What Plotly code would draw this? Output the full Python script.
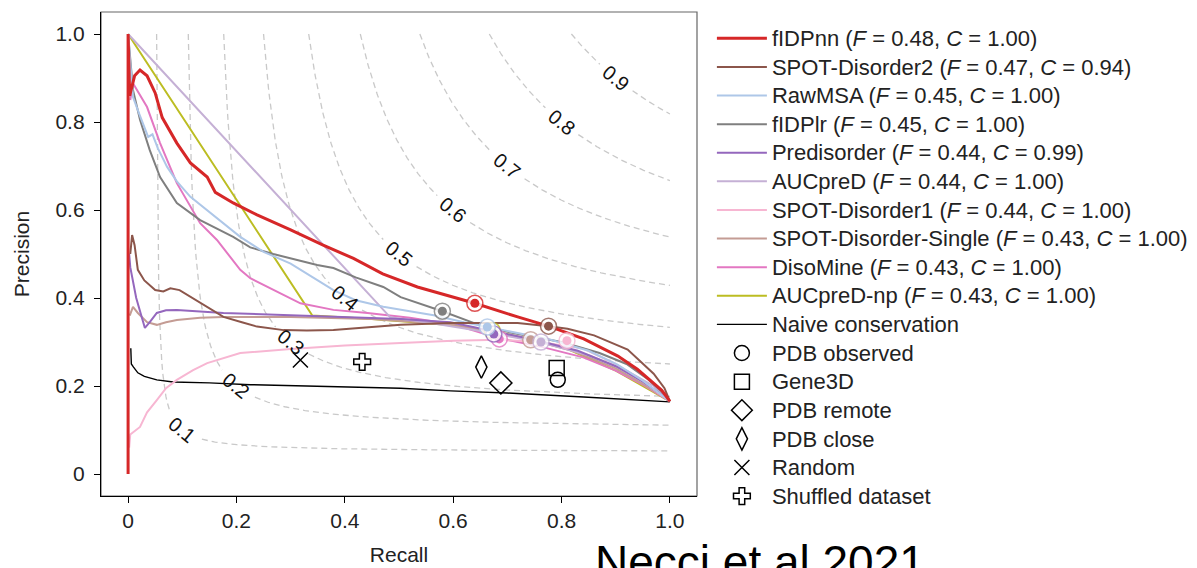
import numpy as np
import plotly.graph_objects as go

# ---------------- data ----------------
fidpnn_r = [0, 0, 0.003, 0.012, 0.022, 0.035, 0.05, 0.063, 0.09, 0.115, 0.146, 0.152, 0.161, 0.194, 0.238, 0.3, 0.36, 0.416, 0.47, 0.534, 0.59, 0.64, 0.719, 0.776, 0.841, 0.904, 0.94, 0.965, 0.985, 1.0]
fidpnn_p = [0, 1, 0.86, 0.905, 0.918, 0.905, 0.866, 0.81, 0.752, 0.707, 0.675, 0.66, 0.64, 0.616, 0.589, 0.555, 0.52, 0.49, 0.455, 0.425, 0.405, 0.388, 0.357, 0.336, 0.307, 0.268, 0.238, 0.212, 0.19, 0.165]

spot2_r = [0.004, 0.0074, 0.012, 0.018, 0.03, 0.05, 0.065, 0.078, 0.095, 0.115, 0.14, 0.176, 0.21, 0.238, 0.287, 0.33, 0.379, 0.44, 0.503, 0.595, 0.719, 0.776, 0.811, 0.86, 0.922, 0.97, 0.99, 1.0]
spot2_p = [0.50, 0.543, 0.52, 0.464, 0.44, 0.418, 0.415, 0.422, 0.418, 0.403, 0.385, 0.357, 0.345, 0.335, 0.327, 0.326, 0.327, 0.333, 0.339, 0.343, 0.343, 0.336, 0.33, 0.315, 0.283, 0.228, 0.195, 0.165]

rawmsa_r = [0, 0.004, 0.009, 0.02, 0.03, 0.037, 0.045, 0.055, 0.072, 0.09, 0.115, 0.145, 0.176, 0.207, 0.25, 0.3, 0.35, 0.379, 0.42, 0.471, 0.52, 0.564, 0.62, 0.663, 0.72, 0.78, 0.85, 0.904, 0.95, 0.985, 1.0]
rawmsa_p = [1, 0.93, 0.857, 0.82, 0.79, 0.766, 0.772, 0.74, 0.698, 0.665, 0.63, 0.6, 0.57, 0.539, 0.505, 0.478, 0.44, 0.418, 0.395, 0.38, 0.37, 0.361, 0.345, 0.334, 0.32, 0.305, 0.28, 0.248, 0.212, 0.18, 0.165]

fidplr_r = [0, 0.009, 0.022, 0.04, 0.059, 0.09, 0.133, 0.194, 0.2255, 0.268, 0.349, 0.379, 0.42, 0.471, 0.503, 0.58, 0.656, 0.72, 0.8, 0.87, 0.92, 0.96, 0.99, 1.0]
fidplr_p = [1, 0.873, 0.805, 0.736, 0.675, 0.616, 0.577, 0.539, 0.515, 0.5, 0.475, 0.468, 0.447, 0.425, 0.402, 0.370, 0.335, 0.318, 0.3, 0.275, 0.25, 0.215, 0.182, 0.165]

predis_r = [0.002, 0.004, 0.015, 0.031, 0.04, 0.053, 0.07, 0.09, 0.176, 0.3, 0.41, 0.503, 0.595, 0.682, 0.75, 0.83, 0.9, 0.95, 0.985, 1.0]
predis_p = [0.5, 0.47, 0.4, 0.332, 0.345, 0.366, 0.372, 0.373, 0.366, 0.361, 0.357, 0.352, 0.345, 0.322, 0.305, 0.28, 0.245, 0.21, 0.18, 0.165]

aucpred_r = [0, 0.484, 0.55, 0.65, 0.76, 0.85, 0.92, 0.97, 1.0]
aucpred_p = [1, 0.356, 0.345, 0.325, 0.30, 0.27, 0.235, 0.2, 0.165]

spot1_r = [0.002, 0.004, 0.022, 0.035, 0.053, 0.07, 0.09, 0.12, 0.146, 0.207, 0.3, 0.4, 0.503, 0.6, 0.684, 0.76, 0.84, 0.9, 0.95, 0.985, 1.0]
spot1_p = [0.06, 0.09, 0.107, 0.14, 0.168, 0.195, 0.214, 0.236, 0.252, 0.275, 0.284, 0.292, 0.298, 0.303, 0.305, 0.3, 0.285, 0.25, 0.21, 0.178, 0.165]

spots_r = [0.003, 0.009, 0.018, 0.035, 0.053, 0.07, 0.09, 0.133, 0.176, 0.3, 0.45, 0.6, 0.743, 0.82, 0.9, 0.95, 0.985, 1.0]
spots_p = [0.36, 0.38, 0.366, 0.345, 0.339, 0.345, 0.35, 0.355, 0.357, 0.357, 0.352, 0.34, 0.305, 0.28, 0.24, 0.205, 0.178, 0.165]

disomine_r = [0.004, 0.009, 0.035, 0.059, 0.09, 0.133, 0.164, 0.207, 0.2255, 0.257, 0.318, 0.379, 0.442, 0.52, 0.6, 0.68, 0.76, 0.84, 0.9, 0.95, 0.985, 1.0]
disomine_p = [0.85, 0.888, 0.834, 0.752, 0.661, 0.57, 0.532, 0.464, 0.445, 0.425, 0.388, 0.373, 0.366, 0.355, 0.34, 0.31, 0.29, 0.265, 0.235, 0.203, 0.177, 0.165]

aucnp_r = [0, 0.34, 0.45, 0.6, 0.7, 0.8, 0.9, 0.95, 0.985, 1.0]
aucnp_p = [1, 0.36, 0.352, 0.338, 0.318, 0.29, 0.235, 0.2, 0.175, 0.165]

naive_r = [0.005, 0.006, 0.01, 0.018, 0.03, 0.053, 0.083, 0.15, 0.2255, 0.35, 0.503, 0.595, 0.7, 0.841, 1.0]
naive_p = [0.286, 0.25, 0.243, 0.23, 0.222, 0.214, 0.209, 0.207, 0.203, 0.199, 0.195, 0.189, 0.184, 0.175, 0.164]

# default-threshold points on each curve (recall, precision)
thr_points = {
    "fIDPnn": (0.64, 0.388),
    "fIDPlr": (0.58, 0.370),
    "SPOT-Disorder2": (0.776, 0.336),
    "RawMSA": (0.663, 0.334),
    "Predisorder": (0.675, 0.318),
    "AUCpreD": (0.762, 0.300),
    "SPOT-Disorder1": (0.81, 0.303),
    "SPOT-Disorder-Single": (0.743, 0.305),
    "DisoMine": (0.685, 0.307),
    "AUCpreD-np": (0.672, 0.326),
}

# baselines
base_names = ["PDB observed", "Gene3D", "PDB remote", "PDB close", "Random", "Shuffled dataset"]
base_r = [0.793, 0.791, 0.688, 0.652, 0.318, 0.432]
base_p = [0.214, 0.241, 0.207, 0.243, 0.259, 0.255]

predictors = [
    ("fIDPnn", 0.48, 1.00, fidpnn_r, fidpnn_p, "#d62728", 3.0),
    ("SPOT-Disorder2", 0.47, 0.94, spot2_r, spot2_p, "#8c564b", 2.0),
    ("RawMSA", 0.45, 1.00, rawmsa_r, rawmsa_p, "#aec7e8", 2.0),
    ("fIDPlr", 0.45, 1.00, fidplr_r, fidplr_p, "#7f7f7f", 2.0),
    ("Predisorder", 0.44, 0.99, predis_r, predis_p, "#9467bd", 2.0),
    ("AUCpreD", 0.44, 1.00, aucpred_r, aucpred_p, "#c5b0d5", 2.0),
    ("SPOT-Disorder1", 0.44, 1.00, spot1_r, spot1_p, "#f7b6d2", 2.0),
    ("SPOT-Disorder-Single", 0.43, 1.00, spots_r, spots_p, "#c49c94", 2.0),
    ("DisoMine", 0.43, 1.00, disomine_r, disomine_p, "#e377c2", 2.0),
    ("AUCpreD-np", 0.43, 1.00, aucnp_r, aucnp_p, "#bcbd22", 2.0),
]

F_LEVELS = [0.1, 0.2, 0.3, 0.4, 0.5, 0.6, 0.7, 0.8, 0.9]
tick_vals = [0, 0.2, 0.4, 0.6, 0.8, 1.0]
tick_text = ["0", "0.2", "0.4", "0.6", "0.8", "1.0"]

# ---------------- layout geometry ----------------
W, H = 1197, 568
M_L, M_R, M_T, M_B = 101, 500, 12, 72
X_RANGE = [-0.05, 1.05]
Y_RANGE = [-0.05, 1.05]
PLOT_H = H - M_T - M_B
PLOT_W = W - M_L - M_R
px_x = PLOT_W / (X_RANGE[1] - X_RANGE[0])
px_y = PLOT_H / (Y_RANGE[1] - Y_RANGE[0])
FONT = "Liberation Sans, Arial, Helvetica, sans-serif"

fig = go.Figure()

# iso-F curves
label_angle = float(np.degrees(np.arctan(px_y / px_x)))
annotations = []
for f in F_LEVELS:
    r = np.linspace(f / (2 - f), 1.0, 500)
    p = f * r / (2 * r - f)
    d = np.hypot((r - f) * px_x, (p - f) * px_y)
    p = np.where(d < 21, np.nan, p)
    fig.add_trace(go.Scatter(x=r, y=p, mode="lines", showlegend=False, hoverinfo="skip",
                             line=dict(color="#c9c9c9", width=1.3, dash="6px,4px")))
    annotations.append(dict(x=f, y=f, xref="x", yref="y", text=f"{f:.1f}", showarrow=False,
                            textangle=label_angle, font=dict(family=FONT, size=20, color="#111")))

# predictors (draw in reverse so fIDPnn is on top; legend order by rank)
n = len(predictors)
for i in reversed(range(n)):
    name, F, C, r, p, col, w = predictors[i]
    label = f'<span style="font-size:22px">{name} (<i>F</i> = {F:.2f}, <i>C</i> = {C:.2f})</span>'
    fig.add_trace(go.Scatter(x=r, y=p, mode="lines", name=label, legendrank=i + 1,
                             line=dict(color=col, width=w)))
    if i == n - 1:
        fig.add_trace(go.Scatter(x=naive_r, y=naive_p, mode="lines",
                                 name='<span style="font-size:22px">Naive conservation</span>',
                                 legendrank=n + 1, line=dict(color="black", width=1.4)))

# threshold markers
for i in reversed(range(n)):
    name, F, C, r, p, col, w = predictors[i]
    tx, ty = thr_points[name]
    fig.add_trace(go.Scatter(x=[tx], y=[ty], mode="markers", showlegend=False, hoverinfo="skip",
                             marker=dict(size=16, color="white", opacity=0.8, line=dict(color=col, width=1.5))))
    fig.add_trace(go.Scatter(x=[tx], y=[ty], mode="markers", showlegend=False, hoverinfo="skip",
                             marker=dict(size=9, color=col, line=dict(width=0))))

# baseline markers
symbols = ["circle-open", "square-open", "diamond-open", "diamond-tall-open", "x-thin-open", "cross-open"]
sizes = [15, 15, 17, 16, 15, 14]
for k in range(len(base_names)):
    fig.add_trace(go.Scatter(x=[base_r[k]], y=[base_p[k]], mode="markers",
                             name=f'<span style="font-size:22px">{base_names[k]}</span>',
                             legendrank=n + 2 + k,
                             marker=dict(symbol=symbols[k], size=sizes[k], color="black",
                                         line=dict(color="black", width=1.5))))

annotations.append(dict(x=(760 - M_L) / PLOT_W, y=(PLOT_H + M_T - 561.6) / PLOT_H,
                        xref="paper", yref="paper", text="Necci et al 2021",
                        showarrow=False, xanchor="center", yanchor="middle",
                        font=dict(family=FONT, size=46, color="black")))

axis_common = dict(showline=True, linecolor="black", linewidth=1.3, ticks="outside", ticklen=6,
                   tickwidth=1.2, tickcolor="black", showgrid=False, zeroline=False,
                   automargin=False, tickvals=tick_vals, ticktext=tick_text,
                   tickfont=dict(family=FONT, size=21, color="#222"))

fig.update_layout(
    width=W, height=H,
    margin=dict(l=M_L, r=M_R, t=M_T, b=M_B, autoexpand=False),
    paper_bgcolor="white", plot_bgcolor="white",
    font=dict(family=FONT, color="#222"),
    xaxis=dict(range=X_RANGE, title=dict(text="Recall", font=dict(family=FONT, size=21), standoff=15), **axis_common),
    yaxis=dict(range=Y_RANGE, title=dict(text="Precision", font=dict(family=FONT, size=21), standoff=20),
               ticklabelstandoff=5, **axis_common),
    legend=dict(x=1.025, y=(PLOT_H + M_T - 19) / PLOT_H, xanchor="left", yanchor="top",
                itemwidth=50, maxheight=560,
                font=dict(family=FONT, size=19.7, color="#222"), bgcolor="rgba(0,0,0,0)",
                tracegroupgap=0),
    shapes=[dict(type="rect", xref="paper", yref="paper", x0=0, y0=0, x1=1, y1=1,
                 line=dict(color="#666", width=1.2), layer="below")],
    annotations=annotations,
    showlegend=True,
)

fig.write_html("out.html")
